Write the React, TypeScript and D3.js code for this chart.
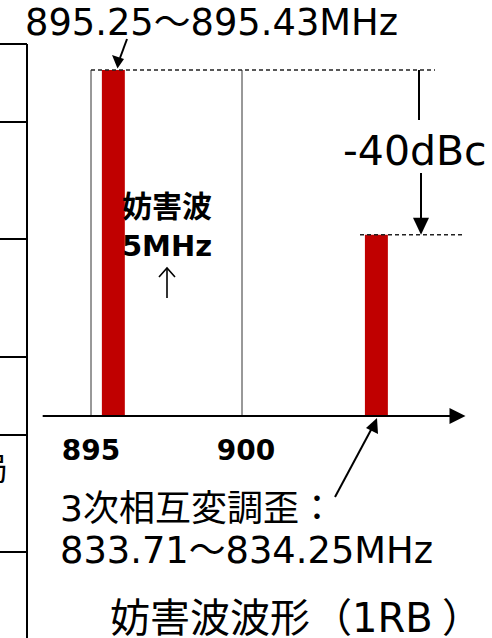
import React from "react";
import * as d3 from "d3";

// ---- data ----
const signalNames = ["妨害波", "3次相互変調歪"];
const signalStart = [895.36, 904.07]; // MHz (schematic position)
const signalEnd = [896.12, 904.83];
const signalLevel = [0, -40]; // dBc
const interfererBox = [895, 900]; // 5 MHz block
const tickValues = [895, 900];
const tickLabels = ["895", "900"];
const axisExtent = [893.4, 907.4];
const levelDomain = [-84, 0];
const tableRows = [44, 122, 239, 357, 435, 552];

const W = 492;
const H = 638;
const LATIN = "'DejaVu Sans', 'Noto Sans CJK JP', sans-serif";
const CJK = "'Noto Sans CJK JP', sans-serif";
const RED = "#c00000";

export default function App() {
  const x = d3.scaleLinear().domain(interfererBox).range([91, 242]);
  const y = d3.scaleLinear().domain(levelDomain).range([416, 70]);
  const y0 = y(levelDomain[0]);
  const ax0 = x(axisExtent[0]);
  const ax1 = x(axisExtent[1]);

  return (
    <svg
      width={W}
      height={H}
      style={{ position: "absolute", left: 0, top: 0, background: "#fff" }}
      fontFamily={LATIN}
    >
      {/* left table fragment */}
      <line x1={27} x2={27} y1={tableRows[0]} y2={H} stroke="#000" strokeWidth={2} />
      {tableRows.map((r, i) => (
        <line key={i} x1={0} x2={27} y1={r} y2={r} stroke="#000" strokeWidth={2} />
      ))}
      <text x={8} y={480} textAnchor="end" fontSize={32} fontFamily={CJK}>局</text>

      {/* 5MHz interferer box */}
      <line x1={x(interfererBox[0])} x2={x(interfererBox[0])} y1={y(0)} y2={y0} stroke="#333" strokeWidth={1} />
      <line x1={x(interfererBox[1])} x2={x(interfererBox[1])} y1={y(0)} y2={y0} stroke="#333" strokeWidth={1} />

      {/* signal bars */}
      {signalNames.map((n, i) => (
        <rect
          key={n}
          x={x(signalStart[i])}
          width={x(signalEnd[i]) - x(signalStart[i])}
          y={y(signalLevel[i])}
          height={y0 - y(signalLevel[i])}
          fill={RED}
        />
      ))}

      {/* dashed reference levels */}
      <line x1={x(interfererBox[0])} x2={435} y1={y(signalLevel[0])} y2={y(signalLevel[0])} stroke="#222" strokeWidth={1.3} strokeDasharray="4,3" />
      <line x1={360} x2={463} y1={y(signalLevel[1])} y2={y(signalLevel[1])} stroke="#222" strokeWidth={1.3} strokeDasharray="4,3" />

      {/* x axis */}
      <line x1={ax0} x2={ax1 - 14} y1={y0} y2={y0} stroke="#000" strokeWidth={2.2} />
      <path d={`M${ax1},${y0} L${ax1 - 16},${y0 - 8} L${ax1 - 16},${y0 + 8} Z`} fill="#000" />
      {tickValues.map((t, i) => (
        <text key={t} x={x(t) + (i === 1 ? 4 : 0)} y={460} textAnchor="middle" fontSize={28} fontWeight="bold">
          {tickLabels[i]}
        </text>
      ))}

      {/* labels inside box */}
      <text x={167} y={217} textAnchor="middle" fontSize={30} fontWeight="bold" fontFamily={CJK}>妨害波</text>
      <text x={167} y={256} textAnchor="middle" fontSize={29} fontWeight="bold">5MHz</text>
      <line x1={167} x2={167} y1={298} y2={268} stroke="#000" strokeWidth={1.6} />
      <path d="M159,277 L167,268 L175,277" fill="none" stroke="#000" strokeWidth={1.6} />

      {/* top frequency label */}
      <text x={25} y={35} fontSize={36.8}>895.25～895.43MHz</text>
      <line x1={127} y1={39} x2={120} y2={58} stroke="#000" strokeWidth={2} />
      <path d="M117.5,68.5 L112,55 L124,59 Z" fill="#000" />

      {/* -40dBc annotation */}
      <line x1={419} x2={419} y1={y(0)} y2={120} stroke="#000" strokeWidth={2} />
      <text x={343} y={165} fontSize={41}>-40dBc</text>
      <line x1={421} x2={421} y1={173} y2={220} stroke="#000" strokeWidth={2} />
      <path d={`M421,${y(-40)} L413,${y(-40) - 17} L429,${y(-40) - 17} Z`} fill="#000" />

      {/* IMD leader */}
      <line x1={335} y1={497} x2={372} y2={428} stroke="#000" strokeWidth={2} />
      <path d="M377,418 L366,428 L378,434 Z" fill="#000" />

      {/* bottom texts */}
      <text x={60} y={521} fontSize={36}>3次相互変調歪：</text>
      <text x={60} y={563} fontSize={36.8}>833.71～834.25MHz</text>
      <text x={110} y={632} fontSize={40}>
        <tspan fontFamily={CJK}>妨害波波形</tspan>
        <tspan x={312} fontFamily={CJK}>（</tspan>
        <tspan x={352}>1RB</tspan>
        <tspan x={442} fontFamily={CJK}>）</tspan>
      </text>
    </svg>
  );
}
